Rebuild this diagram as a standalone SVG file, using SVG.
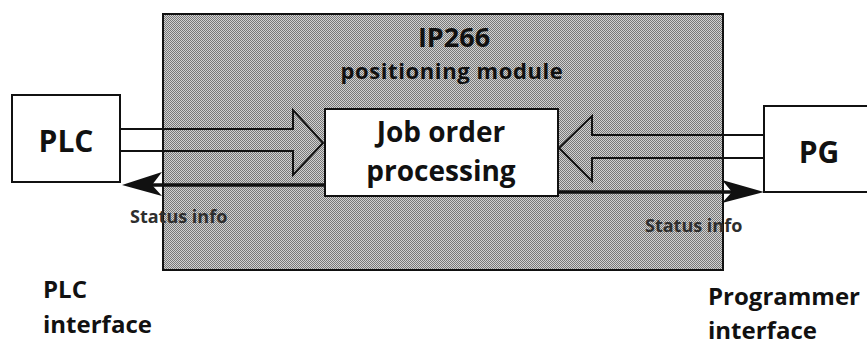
<svg xmlns="http://www.w3.org/2000/svg" width="867" height="346" viewBox="0 0 867 346">
  <defs>
    <pattern id="dither" width="2" height="2" patternUnits="userSpaceOnUse">
      <rect width="2" height="2" fill="#d2d2d2"/>
      <rect width="1" height="1" fill="#787878"/>
      <rect x="1" y="1" width="1" height="1" fill="#787878"/>
    </pattern>
    <style>
      .box { fill: #ffffff; stroke: #111111; stroke-width: 2; }
      .hollow { fill: none; stroke: #111111; stroke-width: 2; stroke-linejoin: miter; }
      .status { stroke: #111111; stroke-width: 3.5; fill: none; }
      .head { fill: #111111; stroke: none; }
      .t { font-family: "Open Sans", "Liberation Sans", sans-serif; font-weight: bold; fill: #111111; }
      .big { font-size: 28px; }
      .lab { font-size: 24px; }
      .small { font-size: 18px; font-weight: bold; fill: #2e2e2e; }
    </style>
  </defs>
  <rect width="867" height="346" fill="#ffffff"/>

  <g id="module">
    <rect x="163" y="14" width="560" height="256" fill="url(#dither)" stroke="#111111" stroke-width="2"/>
    <text class="t" x="454" y="47" font-size="27" text-anchor="middle" fill="#222">IP266</text>
    <text class="t" x="452" y="79" font-size="22" letter-spacing="0.6" text-anchor="middle" fill="#222">positioning module</text>
  </g>

  <g id="plc">
    <rect class="box" x="12" y="95" width="108" height="87"/>
    <text class="t" font-size="30" x="66" y="152" text-anchor="middle">PLC</text>
  </g>

  <g id="job">
    <rect class="box" x="325" y="109" width="233" height="87"/>
    <text class="t big" x="441" y="142" text-anchor="middle">Job order</text>
    <text class="t big" x="441" y="181" text-anchor="middle">processing</text>
  </g>

  <g id="pg">
    <rect class="box" x="764" y="106" width="110" height="86"/>
    <text class="t" font-size="30" x="819" y="163" text-anchor="middle">PG</text>
  </g>

  <g id="connectors">
    <path class="hollow" d="M120,129 H293 V110 L323,143 L293,175 V151 H120"/>
    <path class="hollow" d="M764,135 H592 V116 L559,148 L592,181 V158 H764"/>
    <line class="status" x1="325" y1="185" x2="135" y2="185"/>
    <path class="head" d="M122,185 L162,172 L152,185 L162,196 Z"/>
    <line class="status" x1="558" y1="192" x2="750" y2="192"/>
    <path class="head" d="M764,192 L722,180 L732,192 L722,203 Z"/>
    <text class="t small" x="130" y="223">Status info</text>
    <text class="t small" x="645" y="232">Status info</text>
  </g>

  <g id="labels">
    <text class="t lab"><tspan x="43" y="298">PLC</tspan><tspan x="43" y="333">interface</tspan></text>
    <text class="t lab"><tspan x="708" y="305">Programmer</tspan><tspan x="708" y="339">interface</tspan></text>
  </g>
</svg>
